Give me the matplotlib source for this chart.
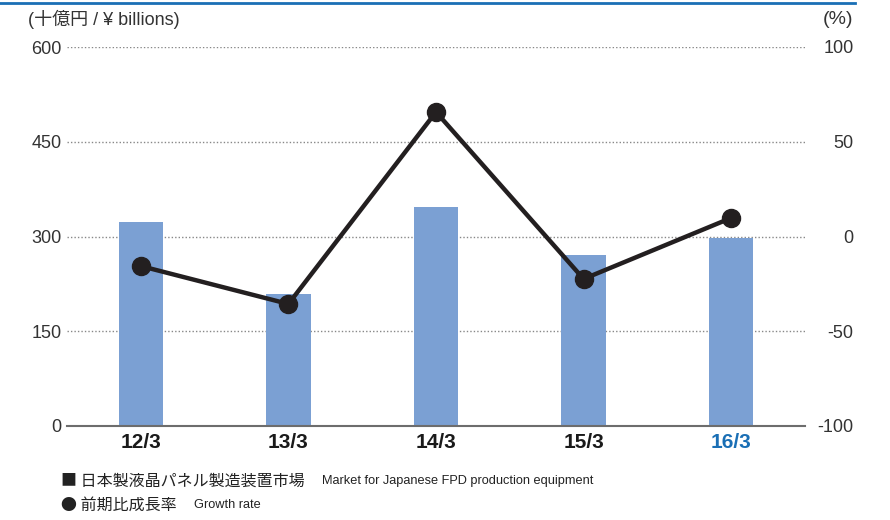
import matplotlib
matplotlib.use("Agg")
import matplotlib.pyplot as plt
from matplotlib.lines import Line2D

categories = ["12/3", "13/3", "14/3", "15/3", "16/3"]
market = [323, 209, 347, 271, 298]          # ¥ billions
growth = [-15.6, -35.6, 65.7, -22.4, 9.8]   # %
left_ticks = [0, 150, 300, 450, 600]
right_ticks = [-100, -50, 0, 50, 100]

BLUE = "#1a6fb5"
BAR = "#7ba0d3"
LINE = "#231f20"
TXT = "#333333"
JP = ["Noto Sans CJK JP", "Liberation Sans", "DejaVu Sans"]
LJ = ["Liberation Sans", "Noto Sans CJK JP", "DejaVu Sans"]

plt.rcParams["font.family"] = LJ

fig = plt.figure(figsize=(8.9, 5.2), dpi=100)
ax = fig.add_axes([67/890, 1-426/520, (805-67)/890, (426-47)/520])
ax2 = ax.twinx()

x = [i + 0.5 for i in range(len(categories))]
ax.bar(x, market, width=0.3, color=BAR, zorder=2)
ax.set_xlim(0, 5)
ax.set_ylim(0, 600)
ax.set_yticks(left_ticks)
ax.set_yticklabels([str(v) for v in left_ticks])
for v in left_ticks[1:]:
    ax.axhline(v, color="#888888", lw=1, ls=(0, (1, 1.5)), zorder=1)
ax.axhline(0, color="#6d6d6d", lw=1.5, zorder=3, clip_on=False)
for s in ax.spines.values():
    s.set_visible(False)
for s in ax2.spines.values():
    s.set_visible(False)
ax.tick_params(axis="y", length=0, pad=4, labelsize=13, labelcolor=TXT)
ax.tick_params(axis="x", length=0, pad=5)
ax.set_xticks(x)
ax.set_xticklabels(categories, fontsize=15, fontweight="bold")
for i, t in enumerate(ax.get_xticklabels()):
    t.set_color(BLUE if i == len(categories) - 1 else "#1a1a1a")

ax2.plot(x, growth, color=LINE, lw=3.2, marker="o", markersize=13, zorder=5)
ax2.set_ylim(-100, 100)
ax2.set_yticks(right_ticks)
ax2.set_yticklabels([str(v) for v in right_ticks])
ax2.tick_params(axis="y", length=0, pad=35, labelsize=13, labelcolor=TXT)
for t in ax2.get_yticklabels():
    t.set_horizontalalignment("right")

# top blue rule
fig.add_artist(Line2D([0, 855/890], [1-3/520, 1-3/520], color=BLUE, lw=2, transform=fig.transFigure))

fig.text(28/890, 1-19/520, "(十億円 / ¥ billions)", family=LJ, fontsize=13, color=TXT, va="center", ha="left")
fig.text(853/890, 1-19/520, "(%)", fontsize=14, color=TXT, va="center", ha="right")

fig.text(61/890, 1-481/520, "■ 日本製液晶パネル製造装置市場", family=JP, fontsize=11.5, color="#222222", va="center", ha="left")
fig.text(322/890, 1-481/520, "Market for Japanese FPD production equipment", family=["Liberation Sans"], fontsize=9.2, color="#222222", va="center", ha="left")
fig.text(61/890, 1-505/520, "● 前期比成長率", family=JP, fontsize=11.5, color="#222222", va="center", ha="left")
fig.text(194/890, 1-505/520, "Growth rate", family=["Liberation Sans"], fontsize=9.2, color="#222222", va="center", ha="left")

fig.savefig("out.png", dpi=100)
